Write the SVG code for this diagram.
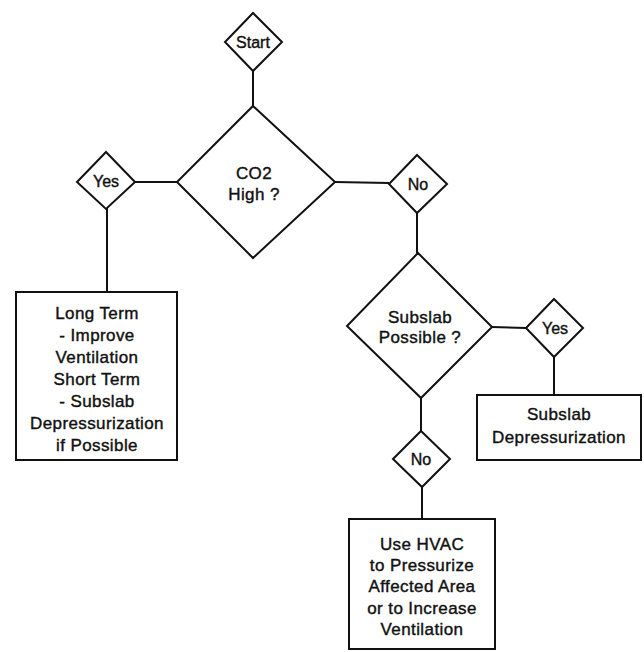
<svg xmlns="http://www.w3.org/2000/svg" width="644" height="652" viewBox="0 0 644 652">
<style>
.s{fill:#fff;stroke:#111;stroke-width:2}
.c{fill:none;stroke:#111;stroke-width:2}
text{font-family:"Liberation Sans",Arial,sans-serif;font-size:17px;fill:#111;stroke:#111;stroke-width:0.4;letter-spacing:0.4px;text-anchor:middle}
.sm{font-size:16px;letter-spacing:0}
</style>
<rect width="644" height="652" fill="#fff"/>
<g id="connectors">
<line class="c" x1="253" y1="71" x2="253" y2="106"/>
<line class="c" x1="135" y1="182" x2="177" y2="182"/>
<line class="c" x1="107" y1="208" x2="107" y2="292"/>
<line class="c" x1="335" y1="182" x2="389" y2="183"/>
<line class="c" x1="417" y1="213" x2="417" y2="253"/>
<line class="c" x1="492" y1="327" x2="526" y2="328"/>
<line class="c" x1="554" y1="357" x2="554" y2="395"/>
<line class="c" x1="421" y1="398" x2="421" y2="431"/>
<line class="c" x1="422" y1="487" x2="422" y2="519"/>
</g>
<g id="start">
<polygon class="s" points="253,13 282,42 253,71 225,42"/>
<text class="sm" x="253" y="48">Start</text>
</g>
<g id="co2">
<polygon class="s" points="253,106 335,182 253,258 177,182"/>
<text x="254" y="179">CO2</text>
<text x="254" y="200">High ?</text>
</g>
<g id="yes1">
<polygon class="s" points="106,152 135,182 106,209 77,182"/>
<text class="sm" x="106" y="187">Yes</text>
</g>
<g id="box1">
<rect class="s" x="16" y="292" width="161" height="168"/>
<text x="97" y="319">Long Term</text>
<text x="97" y="341">- Improve</text>
<text x="97" y="363">Ventilation</text>
<text x="97" y="385">Short Term</text>
<text x="97" y="407">- Subslab</text>
<text x="97" y="429">Depressurization</text>
<text x="97" y="451">if Possible</text>
</g>
<g id="no1">
<polygon class="s" points="417,155 447,184 417,213 389,184"/>
<text class="sm" x="418" y="190">No</text>
</g>
<g id="subslab">
<polygon class="s" points="418,253 492,327 421,398 347,326"/>
<text x="420" y="323">Subslab</text>
<text x="420" y="343">Possible ?</text>
</g>
<g id="yes2">
<polygon class="s" points="554,299 583,328 554,357 526,328"/>
<text class="sm" x="555" y="334">Yes</text>
</g>
<g id="box2">
<rect class="s" x="477" y="395" width="164" height="65"/>
<text x="559" y="420">Subslab</text>
<text x="559" y="443">Depressurization</text>
</g>
<g id="no2">
<polygon class="s" points="421,431 450,459 422,487 393,459"/>
<text class="sm" x="421" y="465">No</text>
</g>
<g id="box3">
<rect class="s" x="349" y="519" width="146" height="130"/>
<text x="422" y="550">Use HVAC</text>
<text x="422" y="571">to Pressurize</text>
<text x="422" y="592">Affected Area</text>
<text x="422" y="614">or to Increase</text>
<text x="422" y="635">Ventilation</text>
</g>
</svg>
